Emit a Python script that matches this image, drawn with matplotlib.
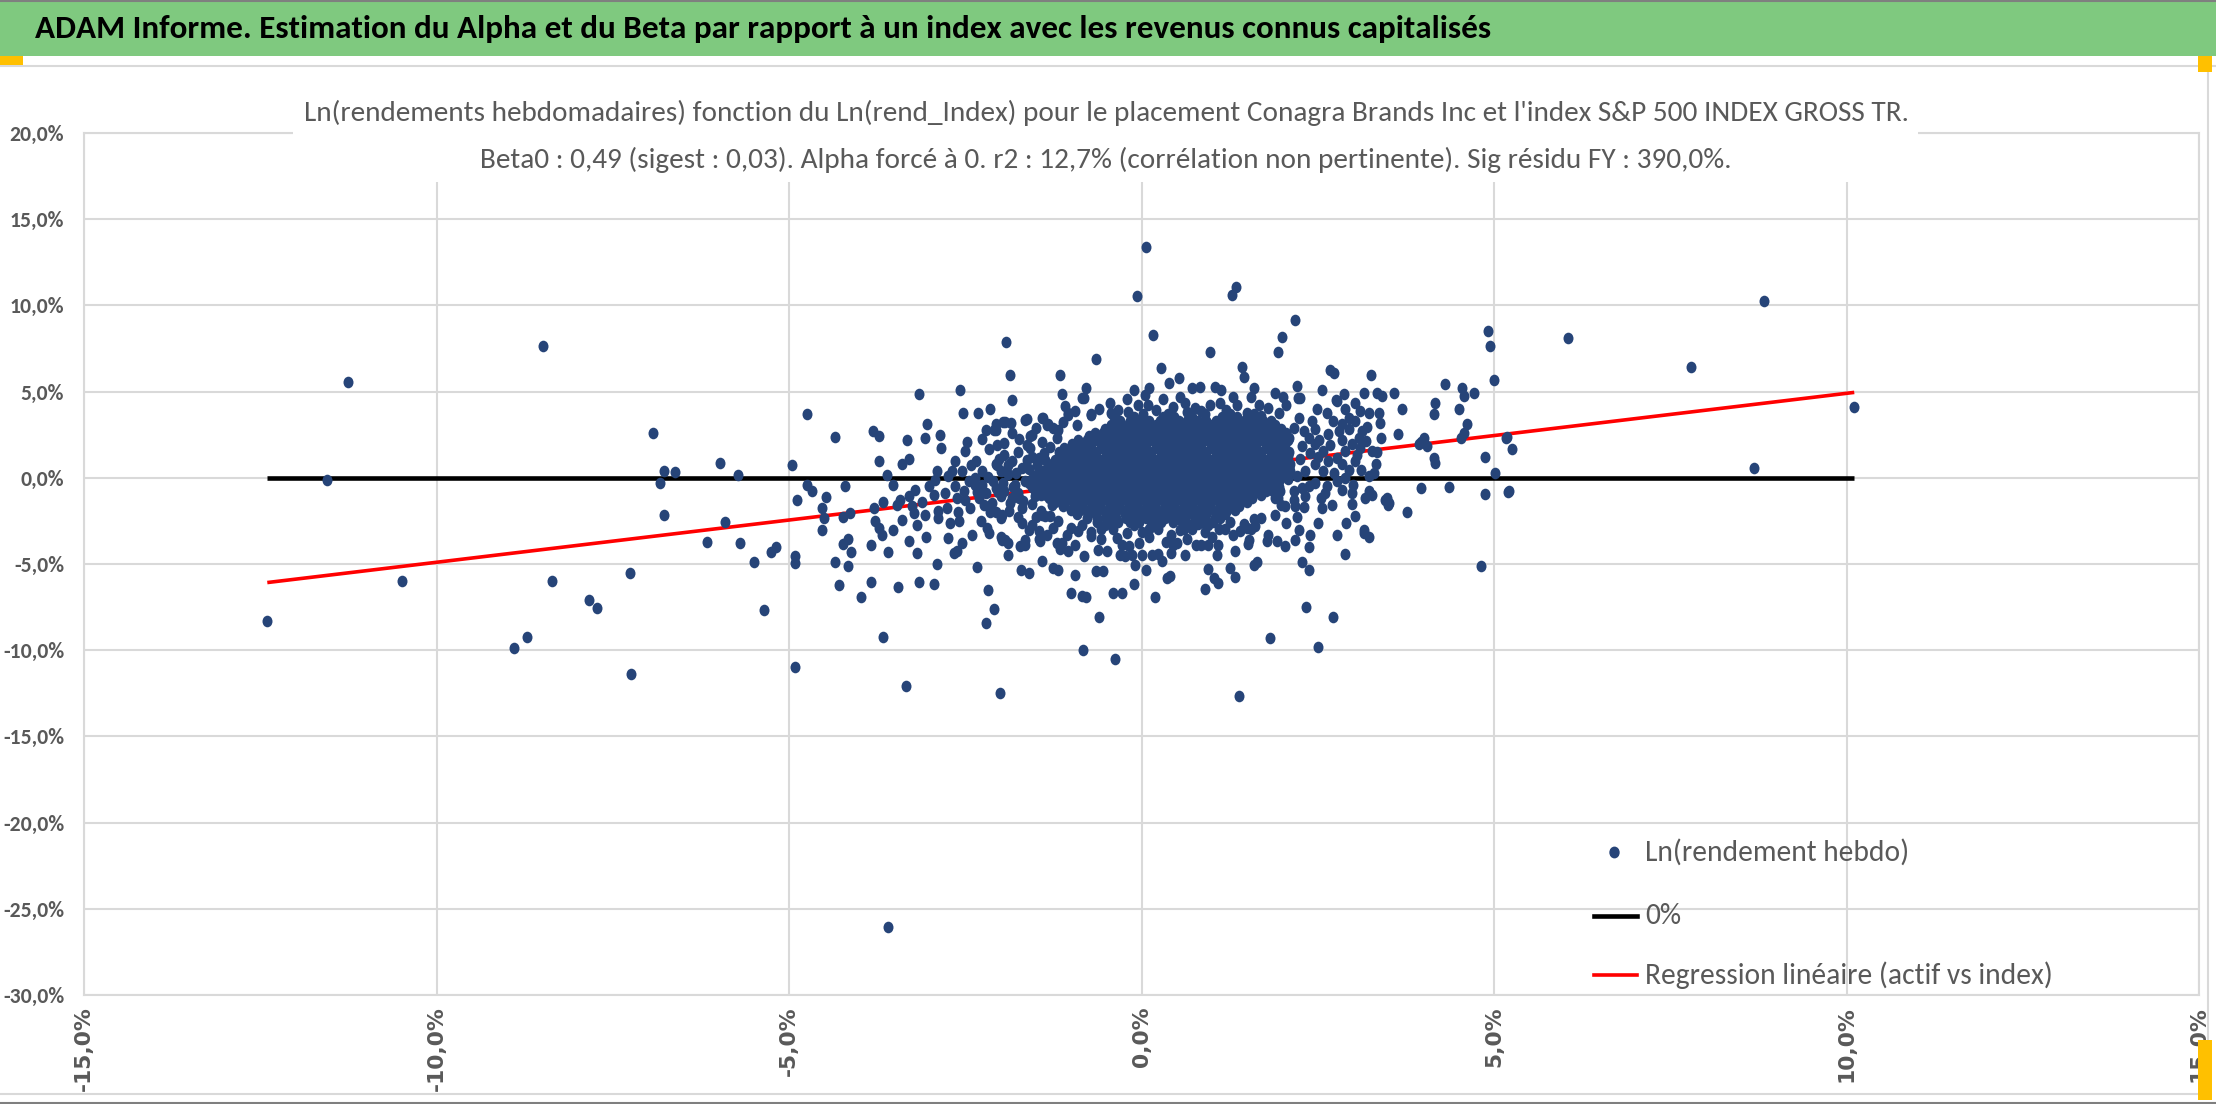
import matplotlib
matplotlib.use("Agg")
import matplotlib.pyplot as plt
from matplotlib import font_manager as fm
from matplotlib.patches import Rectangle
from matplotlib.lines import Line2D
from matplotlib.path import Path
from matplotlib.transforms import Affine2D

W, H = 2216, 1104

header = ("ADAM Informe. Estimation du Alpha et du Beta par rapport à un index "
          "avec les revenus connus capitalisés")
title1 = ("Ln(rendements hebdomadaires) fonction du Ln(rend_Index) pour le placement "
          "Conagra Brands Inc et l'index S&P 500 INDEX GROSS TR.")
title2 = ("Beta0 : 0,49 (sigest : 0,03). Alpha forcé à 0. r2 : 12,7% "
          "(corrélation non pertinente). Sig résidu FY : 390,0%.")
legend_labels = ["Ln(rendement hebdo)", "0%", "Regression linéaire (actif vs index)"]
beta0 = 0.49
x_ticks = [-15, -10, -5, 0, 5, 10, 15]
y_ticks = [-30, -25, -20, -15, -10, -5, 0, 5, 10, 15, 20]

# weekly log returns in % : (index, asset)
pts_far = [(-12.40, -8.32), (-11.55, -0.14), (-11.25, 5.57), (-10.49, -6.0), (-8.90, -9.86),
           (-8.71, -9.26), (-8.49, 7.66), (-8.36, -6.0), (-7.84, -7.08), (-7.72, -7.58),
           (-7.26, -5.53), (-7.24, -11.39), (-6.93, 2.59), (-6.77, 0.39), (-6.62, 0.31),
           (-6.83, -0.29), (-6.77, -2.13), (-6.16, -3.73), (-5.98, 0.85), (-5.91, -2.55),
           (-5.72, 0.19), (-5.69, -3.79), (-5.49, -4.87), (-5.35, -7.68), (-5.25, -4.33),
           (-5.18, -4.0), (-4.96, 0.77), (-4.88, -1.28), (-4.91, -4.53), (-4.92, -4.93),
           (-4.92, -10.99), (-3.60, -26.07), (6.05, 8.12), (7.80, 6.43), (8.83, 10.23),
           (8.69, 0.58), (10.11, 4.11)]

pts_left = [(0.06, 13.4), (-0.06, 10.56), (0.16, 8.27), (-1.92, 7.89), (-0.65, 6.88), (0.28, 6.36),
            (-1.87, 5.95), (-1.15, 5.95), (0.39, 5.52), (0.53, 5.81), (-3.15, 4.88), (-2.58, 5.08),
            (-1.84, 4.53), (-0.79, 5.19), (-0.11, 5.08), (0.10, 5.19), (-4.75, 3.68), (-2.53, 3.76),
            (-2.32, 3.76), (-2.15, 4.01), (-4.35, 2.34), (-3.81, 2.69), (-3.73, 2.42), (-3.04, 3.14),
            (-3.32, 2.21), (-3.07, 2.29), (-2.86, 2.50), (-2.85, 1.74), (-3.73, 0.97), (-3.40, 0.78),
            (-3.30, 1.07), (-3.61, 0.16), (-2.50, 1.55), (-2.64, 0.97), (-2.69, 0.39), (-2.90, 0.39),
            (-2.26, 2.27), (-2.09, 2.79), (-2.07, 3.10), (-1.97, 3.24), (-1.85, 3.20), (-1.84, 2.62),
            (-1.74, 2.23), (-1.63, 3.39), (-1.58, 2.42), (-1.40, 3.49), (-1.32, 3.10), (-1.25, 2.91),
            (-1.13, 4.84), (-1.08, 4.17), (-1.04, 3.78), (-0.82, 4.65), (-0.71, 3.68), (-0.43, 3.78),
            (-0.37, 3.39), (-2.17, 1.65), (-2.07, 0.78), (-1.84, 0.97), (-1.70, 0.54), (-1.58, 1.74),
            (-1.46, 1.16), (-2.36, 0.0), (-2.26, 0.39), (-4.74, -0.43), (-4.68, -0.74), (-4.20, -0.45),
            (-4.47, -1.10), (-4.53, -1.74), (-4.50, -2.36), (-4.53, -3.04), (-4.23, -2.29),
            (-4.13, -2.03), (-4.24, -3.84), (-4.16, -3.57), (-4.12, -4.30), (-4.35, -4.90),
            (-4.17, -5.10), (-4.29, -6.24), (-3.98, -6.92), (-3.84, -6.03), (-3.83, -3.91),
            (-3.80, -1.74), (-3.78, -2.52), (-3.73, -2.91), (-3.68, -3.29), (-3.66, -1.40),
            (-3.52, -0.43), (-3.52, -3.00), (-3.60, -4.32), (-3.67, -9.22), (-3.34, -12.05),
            (-2.01, -12.46), (-3.46, -6.34), (-3.16, -6.05), (-2.95, -6.16), (-2.90, -4.98),
            (-3.19, -4.38), (-3.30, -3.68), (-3.05, -3.43), (-3.40, -2.42), (-3.47, -1.55),
            (-3.42, -1.26), (-3.30, -1.07), (-3.26, -1.65), (-3.23, -2.03), (-3.19, -2.71),
            (-3.21, -0.68), (-3.11, -1.40), (-3.07, -2.13), (-3.02, -0.48), (-2.95, -0.97),
            (-2.93, -0.10), (-2.88, -1.94), (-2.88, -2.33), (-2.79, -0.87), (-2.76, -1.74),
            (-2.71, -2.62), (-2.74, -3.49), (-2.66, -4.36), (-2.61, -1.16), (-2.59, -2.52),
            (-2.55, -3.78), (-2.62, -4.26), (-2.52, -0.78), (-2.43, -1.74), (-2.33, -5.17),
            (-2.36, -0.39), (-2.26, -0.39), (-2.24, -1.55), (-2.19, -2.91), (-2.17, -3.20),
            (-2.18, -6.51), (-2.09, -7.60), (-2.21, -8.45), (-2.07, -0.58), (-2.00, -1.07),
            (-2.00, -2.33), (-1.98, -3.59), (-1.90, -3.78), (-1.89, -4.46), (-1.84, -1.16),
            (-1.79, -0.39), (-1.70, -1.74), (-1.70, -2.62), (-1.72, -3.97), (-1.65, -3.59),
            (-1.71, -5.37), (-1.60, -5.52), (-1.55, -2.71), (-1.51, -1.07), (-1.46, -3.10),
            (-1.44, -3.68), (-1.41, -4.84), (-1.34, -3.29), (-1.37, -2.23), (-1.27, -1.55),
            (-1.25, -5.23), (-1.18, -5.33), (-1.20, -3.78), (-1.13, -3.78), (-1.06, -3.29),
            (-1.18, -2.52), (-1.04, -4.26), (-1.00, -6.69), (-0.95, -5.62), (-0.85, -6.84),
            (-0.79, -6.92), (-0.83, -10.0), (-0.60, -8.10), (-0.38, -10.5), (-0.64, -5.39),
            (-0.55, -5.43), (-0.40, -6.69), (-0.28, -6.69), (-0.10, -6.16), (0.07, -5.37),
            (0.19, -6.92), (0.36, -5.81), (0.41, -5.72), (0.29, -4.84), (0.15, -4.46), (0.0, -4.46),
            (-0.09, -5.04), (-0.23, -4.55), (-0.31, -4.46), (-0.49, -4.26), (-0.61, -4.17),
            (-0.82, -4.55), (-0.94, -3.88), (-0.90, -3.10), (-0.72, -3.39), (-0.18, -3.97),
            (-0.04, -3.78), (0.42, -4.36), (0.51, -3.78),
            (-2.2, -0.9), (-2.1, -0.2), (-1.95, -0.75), (-1.9, 0.2), (-1.75, -0.9), (-1.65, -0.2),
            (-1.6, 0.5), (-1.55, -1.5), (-1.45, -0.55), (-1.4, 0.3), (-1.35, -1.0), (-1.3, 1.8),
            (-1.2, 2.3), (-1.75, 1.5), (-1.95, 1.3), (-2.05, 1.9), (-2.3, -1.2), (-2.45, -0.2),
            (-2.55, 0.4), (-2.65, -0.5), (-2.75, 0.1), (-2.35, 1.0), (-2.0, 0.4), (-1.88, -1.9),
            (-1.5, -2.3), (-1.6, -3.0), (-2.28, -2.5), (-2.4, -3.3),
            (-2.5, -1.3), (-2.42, 0.75), (-2.33, -0.85), (-2.18, 0.05), (-2.12, -1.45), (-2.02, 1.1),
            (-1.97, -0.3), (-1.9, 0.75), (-1.82, -0.55), (-1.78, 0.3), (-1.68, -1.35), (-1.62, 1.05),
            (-1.52, -0.2), (-1.48, 0.75), (-1.43, -1.9), (-1.38, 1.45), (-1.33, -0.45), (-2.6, -2.0),
            (-2.48, 2.1), (-2.2, 2.8), (-1.95, 2.0), (-1.5, 2.9), (-1.75, -2.3), (-2.15, -2.0)]

pts_right = [(1.28, 10.62), (1.34, 11.05), (2.18, 9.15), (1.99, 8.14), (1.94, 7.27), (0.97, 7.31),
             (1.42, 6.43), (1.45, 5.85), (4.91, 8.53), (4.95, 7.62), (5.0, 5.70), (2.68, 6.24),
             (2.73, 6.10), (3.26, 5.95), (4.31, 5.43), (4.54, 5.23), (4.57, 4.75), (4.71, 4.94),
             (4.50, 4.01), (4.16, 4.36), (4.15, 3.72), (4.62, 3.14), (4.57, 2.62), (4.53, 2.33),
             (5.19, 2.36), (5.25, 1.69), (4.87, 1.22), (5.01, 0.29), (5.21, -0.78), (4.87, -0.93),
             (4.82, -5.10), (4.36, -0.52), (3.96, -0.58), (4.17, 0.87), (4.15, 1.16), (3.93, 1.94),
             (4.0, 2.33), (4.05, 1.84), (3.77, -1.98), (3.69, 4.01), (3.64, 2.52), (3.58, 4.94),
             (3.41, 4.75), (3.34, 4.94), (3.15, 4.94), (3.37, 3.78), (3.39, 3.20), (3.34, 1.51),
             (3.32, 0.78), (3.22, 0.10), (3.27, -0.97), (3.22, -0.78), (3.17, -1.16), (3.51, -1.45),
             (3.48, -1.16), (3.03, -2.23), (3.15, -3.0), (3.22, -3.45), (3.15, -3.2), (2.89, -4.42),
             (2.78, -3.29), (2.98, -1.51), (2.98, -0.87), (2.84, -0.68), (2.89, 0.0), (2.70, -1.59),
             (2.56, -1.74), (2.63, -0.48), (2.46, -0.29), (2.39, -3.29), (2.37, -4.01), (2.37, -5.33),
             (2.27, -4.90), (2.24, -3.0), (2.18, -3.59), (2.04, -3.97), (2.05, -2.62), (2.18, -1.65),
             (2.31, -1.71), (2.32, -1.07), (1.92, -3.64), (1.80, -3.33), (1.78, -3.68), (1.64, -4.90),
             (1.59, -5.04), (1.33, -4.26), (1.32, -5.78), (1.26, -5.23), (1.09, -6.10), (1.03, -5.81),
             (0.94, -5.29), (0.90, -6.43), (2.33, -7.52), (2.71, -8.08), (1.82, -9.30), (2.51, -9.79),
             (1.38, -12.64), (1.52, -3.59), (1.49, -2.91), (1.61, -2.81), (1.09, -3.88), (1.07, -4.46),
             (0.85, -3.88), (0.78, -3.88), (0.62, -4.46), (2.20, 5.33), (2.25, 4.65), (2.49, 4.01),
             (2.63, 3.78), (2.56, 5.08), (2.77, 4.46), (2.87, 4.84), (2.89, 3.97), (3.03, 4.36),
             (3.10, 3.88), (3.22, 3.78), (3.03, 3.29), (2.94, 3.49), (2.84, 3.10), (2.80, 2.71),
             (2.65, 2.52), (2.46, 2.81), (2.37, 2.33), (2.23, 3.49), (2.16, 2.91), (2.09, 2.33),
             (2.27, 1.84), (2.39, 1.45), (2.46, 1.94), (2.58, 1.55), (2.65, 0.97), (2.58, 0.39),
             (2.77, 1.16), (2.89, 1.55), (2.99, 1.94), (3.08, 2.33), (3.10, 1.74), (3.13, 2.71),
             (3.18, 2.13), (3.27, 1.55), (3.03, 0.97), (2.94, 0.48), (2.84, 0.78), (2.73, 0.29),
             (2.46, 0.78), (2.32, 0.39), (2.27, -0.58), (2.16, -0.78), (2.04, -1.65), (1.90, -1.16),
             (1.97, -0.78), (5.17, 2.33), (5.20, -0.81),
             (2.2, 0.1), (2.25, 1.1), (2.3, 2.7), (2.38, -0.5), (2.42, 3.3), (2.5, 1.2), (2.52, 2.2),
             (2.6, -0.9), (2.68, 1.9), (2.72, 3.3), (2.78, -0.2), (2.85, 2.2), (2.95, 2.85),
             (3.0, -0.4), (3.05, 1.3), (3.12, 0.45), (3.2, 2.95), (3.3, 0.3), (2.2, -2.3),
             (2.5, -2.6), (2.9, -2.6), (3.4, 2.3)]

pts_mid = [(0.05, 4.81), (0.71, 5.19), (0.83, 5.29), (1.04, 5.29), (1.13, 5.10), (1.30, 4.71),
           (1.60, 5.19), (1.56, 4.71), (1.67, 4.22), (1.79, 4.03), (1.89, 4.90), (2.00, 4.71),
           (2.22, 4.61), (2.76, 4.52), (-0.85, 4.61), (-0.71, 3.64), (-0.40, 3.64), (-0.33, 3.93),
           (-0.19, 3.84), (-0.05, 4.22), (0.09, 4.22), (0.45, 4.13), (0.61, 4.32), (0.76, 4.03),
           (0.97, 4.22), (1.11, 4.32), (-1.65, 3.35), (-1.41, 3.45), (-1.34, 3.06), (-1.93, 3.26),
           (-2.07, 2.77), (-1.63, 1.90), (-1.56, 2.48), (-1.41, 2.09), (-1.18, 2.77), (-1.11, 3.26),
           (-1.04, 3.64), (-0.92, 3.06), (-2.05, 0.74), (-1.56, 1.22), (-1.37, 1.03), (3.46, -1.30),
           (3.49, -1.59), (2.55, -1.20), (3.96, 2.09), (1.51, -3.82), (0.94, -3.91), (0.45, -3.91),
           (0.24, -4.40), (-0.14, -4.50), (-0.28, -3.91), (-0.57, -3.53), (-1.15, -4.11),
           (-1.46, -3.53), (-1.65, -3.91), (-1.93, -3.62), (-2.00, -3.43), (-1.41, -2.17),
           (-1.98, -2.17), (-2.07, -1.98), (-1.86, -1.49), (-1.74, -1.20), (-2.03, -0.81),
           (0.71, -2.95), (0.90, -3.14), (1.18, -2.95), (1.46, -2.66), (1.56, -2.95), (1.70, -2.36),
           (1.89, -2.17), (1.98, -1.59), (2.17, -1.30), (1.93, -1.20), (-0.57, -2.95), (-0.71, -3.14),
           (-0.85, -2.75), (0.0, -3.14), (0.24, -2.95), (0.42, -3.33),
           (-0.6, 4.0), (-0.45, 4.35), (0.2, 3.95), (0.3, 4.55), (0.55, 4.7), (0.85, 3.85),
           (1.2, 3.95), (1.35, 4.25), (1.5, 3.75), (1.7, 3.6), (1.95, 3.75), (2.05, 4.2),
           (-0.95, 3.9), (-0.2, 4.55), (0.65, 3.8), (-1.0, -2.9), (-0.35, -3.5), (0.1, -3.45),
           (0.55, -3.0), (0.65, -3.55), (1.0, -3.45), (1.3, -3.3), (1.4, -3.1), (-0.2, -3.2),
           (-1.25, -2.9), (0.35, -3.7), (0.8, -2.7), (1.25, -2.55), (1.6, -2.4), (-1.3, -2.2)]

# solid centre of the cloud, read row by row
core_y = [3.72, 3.52, 3.3, 3.08, 2.85, 2.62, 2.4, 2.18, 1.95, 1.72, 1.5, 1.28, 1.05, 0.82, 0.6,
          0.38, 0.15, -0.08, -0.3, -0.52, -0.75, -0.98, -1.2, -1.42, -1.65, -1.88, -2.1, -2.32,
          -2.55, -2.76, -2.98]
core_x = [
    [0.02, 0.38, 0.9, 1.25, 1.6],
    [-0.1, 0.3, 0.46, 0.72, 1.14, 1.36, 1.68],
    [-0.3, -0.17, -0.02, 0.1, 0.26, 0.37, 0.53, 0.64, 0.8, 0.91, 1.06, 1.2, 1.3, 1.46, 1.55, 1.72, 1.83],
    [-0.43, -0.31, -0.19, -0.05, 0.07, 0.21, 0.33, 0.47, 0.59, 0.73, 0.86, 0.99, 1.12, 1.25, 1.38,
     1.51, 1.64, 1.77, 1.9],
    [-0.52, -0.37, -0.27, -0.1, 0.01, 0.16, 0.27, 0.43, 0.53, 0.68, 0.79, 0.94, 1.05, 1.2, 1.31,
     1.46, 1.57, 1.72, 1.83, 1.98],
    [-0.66, -0.54, -0.41, -0.28, -0.15, -0.02, 0.11, 0.24, 0.37, 0.5, 0.63, 0.76, 0.89, 1.02, 1.15,
     1.28, 1.41, 1.54, 1.67, 1.8, 1.93, 2.05],
    [-0.75, -0.6, -0.49, -0.33, -0.23, -0.07, 0.04, 0.19, 0.3, 0.45, 0.56, 0.71, 0.82, 0.97, 1.08,
     1.23, 1.34, 1.49, 1.6, 1.75, 1.86, 2.01],
    [-0.9, -0.78, -0.65, -0.52, -0.39, -0.26, -0.13, 0.0, 0.13, 0.26, 0.39, 0.52, 0.65, 0.78, 0.91,
     1.04, 1.17, 1.3, 1.43, 1.56, 1.69, 1.82, 1.95, 2.08],
    [-0.98, -0.84, -0.73, -0.58, -0.47, -0.32, -0.21, -0.06, 0.05, 0.2, 0.31, 0.46, 0.57, 0.72,
     0.83, 0.98, 1.09, 1.24, 1.35, 1.5, 1.61, 1.76, 1.87, 2.03],
    [-1.1, -0.97, -0.84, -0.71, -0.58, -0.45, -0.32, -0.19, -0.06, 0.07, 0.2, 0.33, 0.46, 0.59,
     0.72, 0.85, 0.98, 1.11, 1.24, 1.37, 1.5, 1.63, 1.76, 1.89, 2.02],
    [-1.17, -1.02, -0.91, -0.76, -0.65, -0.5, -0.39, -0.24, -0.13, 0.02, 0.13, 0.28, 0.39, 0.54,
     0.65, 0.8, 0.91, 1.06, 1.17, 1.32, 1.43, 1.58, 1.69, 1.84, 1.95, 2.09],
    [-1.16, -1.03, -0.9, -0.77, -0.64, -0.51, -0.38, -0.25, -0.12, 0.01, 0.14, 0.27, 0.4, 0.53,
     0.66, 0.79, 0.92, 1.05, 1.18, 1.31, 1.44, 1.57, 1.7, 1.83, 1.96, 2.08],
    [-1.23, -1.08, -0.97, -0.82, -0.71, -0.56, -0.45, -0.3, -0.19, -0.04, 0.07, 0.22, 0.33, 0.48,
     0.59, 0.74, 0.85, 1.0, 1.11, 1.26, 1.37, 1.52, 1.63, 1.78, 1.89, 2.04],
    [-1.27, -1.14, -1.01, -0.88, -0.75, -0.62, -0.49, -0.36, -0.23, -0.1, 0.03, 0.16, 0.29, 0.42,
     0.55, 0.68, 0.81, 0.94, 1.07, 1.2, 1.33, 1.46, 1.59, 1.72, 1.85, 1.98, 2.1],
    [-1.31, -1.16, -1.05, -0.9, -0.79, -0.64, -0.53, -0.38, -0.27, -0.12, -0.01, 0.14, 0.25, 0.4,
     0.51, 0.66, 0.77, 0.92, 1.03, 1.18, 1.29, 1.44, 1.55, 1.7, 1.81, 1.96, 2.09],
    [-1.4, -1.27, -1.14, -1.01, -0.88, -0.75, -0.62, -0.49, -0.36, -0.23, -0.1, 0.03, 0.16, 0.29,
     0.42, 0.55, 0.68, 0.81, 0.94, 1.07, 1.2, 1.33, 1.46, 1.59, 1.72, 1.85, 1.98, 2.11],
    [-1.49, -1.34, -1.23, -1.08, -0.97, -0.82, -0.71, -0.56, -0.45, -0.3, -0.19, -0.04, 0.07, 0.22,
     0.33, 0.48, 0.59, 0.74, 0.85, 1.0, 1.11, 1.26, 1.37, 1.52, 1.63, 1.78, 1.89, 2.04],
    [-1.55, -1.41, -1.28, -1.15, -1.02, -0.89, -0.76, -0.63, -0.5, -0.37, -0.24, -0.11, 0.02, 0.15,
     0.28, 0.41, 0.54, 0.67, 0.8, 0.93, 1.06, 1.19, 1.32, 1.45, 1.58, 1.71, 1.84, 1.97, 2.08],
    [-1.59, -1.44, -1.33, -1.18, -1.07, -0.92, -0.81, -0.66, -0.55, -0.4, -0.29, -0.14, -0.03, 0.12,
     0.23, 0.38, 0.49, 0.64, 0.75, 0.9, 1.01, 1.16, 1.27, 1.42, 1.53, 1.68, 1.79, 1.94],
    [-1.55, -1.42, -1.29, -1.16, -1.03, -0.9, -0.77, -0.64, -0.51, -0.38, -0.25, -0.12, 0.01, 0.14,
     0.27, 0.4, 0.53, 0.66, 0.79, 0.92, 1.05, 1.18, 1.31, 1.44, 1.57, 1.7, 1.83, 1.95],
    [-1.51, -1.36, -1.25, -1.1, -0.99, -0.84, -0.73, -0.58, -0.47, -0.32, -0.21, -0.06, 0.05, 0.2,
     0.31, 0.46, 0.57, 0.72, 0.83, 0.98, 1.09, 1.24, 1.35, 1.5, 1.61, 1.76, 1.86],
    [-1.42, -1.29, -1.16, -1.03, -0.9, -0.77, -0.64, -0.51, -0.38, -0.25, -0.12, 0.01, 0.14, 0.27,
     0.4, 0.53, 0.66, 0.79, 0.92, 1.05, 1.18, 1.31, 1.44, 1.57, 1.7],
    [-1.31, -1.16, -1.05, -0.9, -0.79, -0.64, -0.53, -0.38, -0.27, -0.12, -0.01, 0.14, 0.25, 0.4,
     0.51, 0.66, 0.77, 0.92, 1.03, 1.18, 1.29, 1.44, 1.57],
    [-1.22, -1.09, -0.96, -0.83, -0.7, -0.57, -0.44, -0.31, -0.18, -0.05, 0.08, 0.21, 0.34, 0.47,
     0.6, 0.73, 0.86, 0.99, 1.12, 1.25, 1.38, 1.5],
    [-1.11, -0.96, -0.85, -0.7, -0.59, -0.44, -0.33, -0.18, -0.07, 0.08, 0.19, 0.34, 0.45, 0.6,
     0.71, 0.86, 0.97, 1.12, 1.23, 1.38],
    [-1.0, -0.87, -0.74, -0.61, -0.48, -0.35, -0.22, -0.09, 0.04, 0.17, 0.3, 0.43, 0.56, 0.69,
     0.82, 0.95, 1.08, 1.21, 1.32],
    [-0.91, -0.76, -0.65, -0.5, -0.39, -0.24, -0.13, 0.02, 0.13, 0.28, 0.39, 0.54, 0.65, 0.8, 0.91,
     1.06, 1.19],
    [-0.78, -0.63, -0.5, -0.36, -0.22, -0.08, 0.06, 0.2, 0.34, 0.48, 0.62, 0.76, 0.9, 1.04, 1.12],
    [-0.63, -0.46, -0.33, -0.16, -0.03, 0.14, 0.27, 0.44, 0.57, 0.74, 0.87, 1.01],
    [-0.52, -0.1, 0.22, 0.66, 0.95],
    [-0.4, 0.1, 0.6, 1.1],
]

idx_ret = [p[0] for p in pts_far + pts_left + pts_right + pts_mid]
asset_ret = [p[1] for p in pts_far + pts_left + pts_right + pts_mid]
for yv, row in zip(core_y, core_x):
    idx_ret += row
    asset_ret += [yv] * len(row)

# fonts: something narrow like Calibri if we can find it
have = {f.name for f in fm.fontManager.ttflist}
NF = {"family": "DejaVu Sans"}
for name in ["Carlito", "Liberation Sans Narrow", "Roboto Condensed", "Open Sans Condensed",
             "Noto Sans Condensed", "DejaVu Sans Condensed"]:
    if name in have:
        NF = {"family": name}
        break
else:
    if "Liberation Sans" in have:
        NF = {"family": "Liberation Sans"}

GREY = "#595959"
GRID = "#D9D9D9"
BLUE = "#264478"
# the screenshot is slightly stretched vertically, so the dots are a bit taller than wide
DOT = Path.unit_circle().transformed(Affine2D().scale(0.86, 1.0))

fig = plt.figure(figsize=(W / 100, H / 100), dpi=100)
fig.patch.set_facecolor("white")
rend = fig.canvas.get_renderer()


def fx(x):
    return x / W


def fy(y):
    return 1 - y / H


def fit(s, target, vertical=False, **kw):
    t = fig.text(0, 0, s, fontsize=20, rotation=90 if vertical else 0, **kw)
    bb = t.get_window_extent(rend)
    t.remove()
    return 20 * target / (bb.height if vertical else bb.width)


# header band
fig.add_artist(Rectangle((0, fy(56)), 1, 56 / H, transform=fig.transFigure,
                         facecolor="#7fc97f", edgecolor="none", zorder=1))
fig.add_artist(Line2D([0, 1], [fy(1), fy(1)], transform=fig.transFigure, color="#7f7f7f", lw=1.5))
fig.text(fx(35), fy(29), header, ha="left", va="center", color="black", fontweight="bold",
         fontsize=fit(header, 1459, fontweight="bold", **NF), zorder=3, **NF)
fig.add_artist(Line2D([0, 1], [fy(66), fy(66)], transform=fig.transFigure, color=GRID, lw=1.5))
fig.add_artist(Line2D([fx(2208), fx(2208)], [fy(66), fy(1094)], transform=fig.transFigure,
                      color=GRID, lw=1.5))
fig.add_artist(Line2D([0, fx(2208)], [fy(1094), fy(1094)], transform=fig.transFigure,
                      color=GRID, lw=1.5))
fig.add_artist(Line2D([0, 1], [fy(1103), fy(1103)], transform=fig.transFigure, color="#7f7f7f", lw=1.5))
for (x0, y0, w, h) in [(0, 56, 23, 9), (2198, 56, 14, 16), (2198, 1040, 14, 60)]:
    fig.add_artist(Rectangle((fx(x0), fy(y0 + h)), w / W, h / H, transform=fig.transFigure,
                             facecolor="#ffc000", edgecolor="none", zorder=6))

# plot area
ax = fig.add_axes([fx(84), fy(995), (2199 - 84) / W, (995 - 133) / H])
ax.set_xlim(-15, 15)
ax.set_ylim(-30, 20)
ax.set_xticks(x_ticks)
ax.set_yticks(y_ticks)
ax.grid(True, color=GRID, lw=1.5)
ax.set_axisbelow(True)
for sp in ax.spines.values():
    sp.set_color(GRID)
    sp.set_linewidth(1.5)

xmin, xmax = min(idx_ret), max(idx_ret)
ax.plot([xmin, xmax], [0, 0], color="black", lw=3.3, zorder=2, solid_capstyle="butt")
ax.plot([xmin, xmax], [beta0 * xmin, beta0 * xmax], color="#ff0000", lw=2.6, zorder=2,
        solid_capstyle="butt")
ax.scatter(idx_ret, asset_ret, s=70, marker=DOT, color=BLUE, linewidths=0, zorder=3)

pct = lambda v: f"{v:.1f}%".replace(".", ",")
fs_y = fit("-30,0%", 61, fontweight="bold", **NF)
ax.set_yticklabels([pct(v) for v in y_ticks], fontsize=fs_y, fontweight="bold", color=GREY, **NF)
fs_x = fit("-15,0%", 85, vertical=True, fontweight="bold", family="DejaVu Sans")
ax.set_xticklabels([pct(v) for v in x_ticks], rotation=90, fontsize=fs_x, fontweight="bold",
                   color=GREY, family="DejaVu Sans")
ax.tick_params(axis="both", length=0)
ax.tick_params(axis="y", pad=20 * 72 / 100)
ax.tick_params(axis="x", pad=11 * 72 / 100)

# chart title on a white box over the top gridline
fig.add_artist(Rectangle((fx(293), fy(182)), (1918 - 293) / W, (182 - 70) / H,
                         transform=fig.transFigure, facecolor="white", edgecolor="none", zorder=4))
fig.text(fx(1106), fy(113), title1, ha="center", va="center", color=GREY, zorder=5,
         fontsize=fit(title1, 1609, **NF), **NF)
fig.text(fx(1106), fy(160), title2, ha="center", va="center", color=GREY, zorder=5,
         fontsize=fit(title2, 1251, **NF), **NF)

# legend, drawn by hand in the lower right of the plot area
fs_leg = fit(legend_labels[2], 407, **NF)
fig.add_artist(Line2D([fx(1614)], [fy(852)], transform=fig.transFigure, marker=DOT, ms=7.5,
                      color=BLUE, lw=0, zorder=5))
fig.add_artist(Line2D([fx(1594), fx(1637)], [fy(916), fy(916)], transform=fig.transFigure,
                      color="black", lw=3.3, zorder=5))
fig.add_artist(Line2D([fx(1594), fx(1637)], [fy(975), fy(975)], transform=fig.transFigure,
                      color="#ff0000", lw=2.6, zorder=5))
for lab, yy in zip(legend_labels, [852, 916, 975]):
    fig.text(fx(1645), fy(yy), lab, ha="left", va="center", color=GREY, fontsize=fs_leg,
             zorder=5, **NF)

fig.savefig("out.png", dpi=100)
